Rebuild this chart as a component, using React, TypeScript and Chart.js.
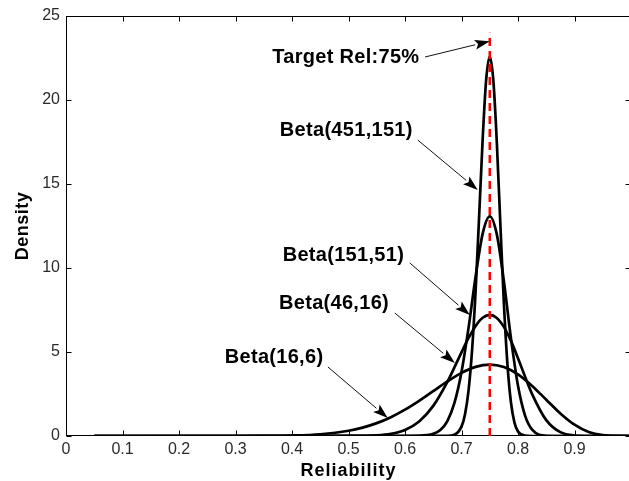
import { useEffect, useRef } from "react";
import { Chart, registerables } from "chart.js";

Chart.register(...registerables);

// Axis ticks
const reliabilityTicks = [0, 0.1, 0.2, 0.3, 0.4, 0.5, 0.6, 0.7, 0.8, 0.9, 1];
const densityTicks = [0, 5, 10, 15, 20, 25];

// Target reliability marker
const targetReliability = 0.75;
const targetLineTop = 24;

// Beta(16,6) density
const beta16x6X = [0.05, 0.3, 0.35, 0.4, 0.45, 0.5, 0.525, 0.55, 0.575, 0.6, 0.625, 0.65, 0.675, 0.7, 0.725, 0.75, 0.775, 0.8, 0.825, 0.85, 0.875, 0.9, 0.925, 0.95, 0.975, 1.0];
const beta16x6Y = [0, 0.001, 0.006, 0.027, 0.103, 0.311, 0.5, 0.766, 1.121, 1.568, 2.094, 2.671, 3.248, 3.756, 4.115, 4.249, 4.103, 3.666, 2.983, 2.16, 1.341, 0.67, 0.24, 0.047, 0.002, 0];

// Beta(46,16) density
const beta46x16X = [0.05, 0.45, 0.5, 0.55, 0.575, 0.6, 0.625, 0.65, 0.675, 0.6875, 0.7, 0.7125, 0.725, 0.7375, 0.75, 0.7625, 0.775, 0.7875, 0.8, 0.8125, 0.825, 0.85, 0.875, 0.9, 0.925, 0.95, 1.0];
const beta46x16Y = [0, 0, 0.003, 0.042, 0.132, 0.362, 0.863, 1.792, 3.222, 4.085, 4.982, 5.835, 6.551, 7.036, 7.211, 7.029, 6.493, 5.66, 4.631, 3.534, 2.496, 0.947, 0.227, 0.028, 0.001, 0, 0];

// Beta(151,51) density
const beta151x51X = [0.05, 0.6, 0.625, 0.65, 0.6625, 0.675, 0.6875, 0.7, 0.7125, 0.725, 0.7375, 0.75, 0.7625, 0.775, 0.7875, 0.8, 0.8125, 0.825, 0.85, 0.875, 1.0];
const beta151x51Y = [0, 0.001, 0.011, 0.126, 0.356, 0.891, 1.966, 3.81, 6.452, 9.494, 12.048, 13.07, 12.003, 9.215, 5.829, 2.986, 1.213, 0.38, 0.015, 0, 0];

// Beta(451,151) density
const beta451x151X = [0.05, 0.675, 0.6875, 0.7, 0.70625, 0.7125, 0.71875, 0.725, 0.73125, 0.7375, 0.74375, 0.75, 0.75625, 0.7625, 0.76875, 0.775, 0.78125, 0.7875, 0.79375, 0.8, 0.8125, 0.825, 1.0];
const beta451x151Y = [0, 0.007, 0.077, 0.559, 1.298, 2.718, 5.121, 8.658, 13.1, 17.693, 21.24, 22.59, 21.21, 17.494, 12.617, 7.917, 4.297, 2.004, 0.798, 0.269, 0.018, 0, 0];

// Callout labels, in data coordinates: text anchor, arrow tail, arrow tip
const calloutTexts = ["Target Rel:75%", "Beta(451,151)", "Beta(151,51)", "Beta(46,16)", "Beta(16,6)"];
const calloutTextAt = [[0.365, 22.56], [0.3785, 18.21], [0.3835, 10.77], [0.377, 7.86], [0.281, 4.7]];
const calloutTails = [[0.6355, 22.56], [0.6225, 17.62], [0.6085, 10.3], [0.582, 7.32], [0.4635, 4.11]];
const calloutTips = [[0.75, 23.5], [0.7288, 14.64], [0.7147, 7.2], [0.6882, 4.35], [0.5696, 1.07]];

const toPoints = (xs: number[], ys: number[]) => xs.map((x, i) => ({ x, y: ys[i] }));

const framePlugin = {
  id: "frameTicks",
  beforeDatasetsDraw(chart: any) {
    const { ctx, chartArea: a, scales } = chart;
    const xs = scales.x;
    const ys = scales.y;
    const L = Math.round(a.left) + 0.5;
    const R = Math.round(a.right) - 0.5;
    const T = Math.round(a.top) + 0.5;
    const B = Math.round(a.bottom) - 0.5;
    const tl = 5;
    ctx.save();
    ctx.strokeStyle = "#000";
    ctx.lineWidth = 1;
    ctx.strokeRect(L, T, R - L, B - T);
    ctx.beginPath();
    reliabilityTicks.forEach((v) => {
      const px = Math.round(xs.getPixelForValue(v)) + 0.5;
      ctx.moveTo(px, B);
      ctx.lineTo(px, B - tl);
      ctx.moveTo(px, T);
      ctx.lineTo(px, T + tl);
    });
    densityTicks.forEach((v) => {
      const py = Math.round(ys.getPixelForValue(v)) + 0.5;
      ctx.moveTo(L, py);
      ctx.lineTo(L + tl, py);
      ctx.moveTo(R, py);
      ctx.lineTo(R - tl, py);
    });
    ctx.stroke();
    ctx.restore();
  },
  afterDraw(chart: any) {
    const { ctx, chartArea: a } = chart;
    ctx.save();
    ctx.fillStyle = "#000";
    ctx.font = "bold 18px 'Liberation Sans', Arial, sans-serif";
    (ctx as any).letterSpacing = "1px";
    ctx.textAlign = "center";
    ctx.textBaseline = "alphabetic";
    ctx.fillText("Reliability", (a.left + a.right) / 2, 475.5);
    ctx.translate(28, (a.top + a.bottom) / 2);
    ctx.rotate(-Math.PI / 2);
    (ctx as any).letterSpacing = "0.5px";
    ctx.fillText("Density", 0, 0);
    ctx.restore();
  },
};

const calloutPlugin = {
  id: "callouts",
  afterDatasetsDraw(chart: any) {
    const { ctx, scales } = chart;
    const xs = scales.x;
    const ys = scales.y;
    ctx.save();
    calloutTexts.forEach((text, i) => {
      const tx = xs.getPixelForValue(calloutTextAt[i][0]);
      const ty = ys.getPixelForValue(calloutTextAt[i][1]);
      ctx.fillStyle = "#000";
      ctx.font = "bold 20px 'Liberation Sans', Arial, sans-serif";
      (ctx as any).letterSpacing = "0.3px";
      ctx.textAlign = "left";
      ctx.textBaseline = "middle";
      ctx.fillText(text, tx, ty);

      const x0 = xs.getPixelForValue(calloutTails[i][0]);
      const y0 = ys.getPixelForValue(calloutTails[i][1]);
      const x1 = xs.getPixelForValue(calloutTips[i][0]);
      const y1 = ys.getPixelForValue(calloutTips[i][1]);
      const ang = Math.atan2(y1 - y0, x1 - x0);
      const hl = 15;
      const hw = 5;
      const bx = x1 - hl * Math.cos(ang);
      const by = y1 - hl * Math.sin(ang);
      ctx.strokeStyle = "#111";
      ctx.lineWidth = 1;
      ctx.beginPath();
      ctx.moveTo(x0, y0);
      ctx.lineTo(bx, by);
      ctx.stroke();
      ctx.beginPath();
      ctx.moveTo(x1, y1);
      ctx.lineTo(bx - hw * Math.sin(ang), by + hw * Math.cos(ang));
      ctx.lineTo(bx + 3 * Math.cos(ang), by + 3 * Math.sin(ang));
      ctx.lineTo(bx + hw * Math.sin(ang), by - hw * Math.cos(ang));
      ctx.closePath();
      ctx.fillStyle = "#000";
      ctx.fill();
    });
    ctx.restore();
  },
};

export default function App() {
  const canvasRef = useRef<HTMLCanvasElement | null>(null);

  useEffect(() => {
    if (!canvasRef.current) return;
    const curve = (xs: number[], ys: number[]) => ({
      data: toPoints(xs, ys),
      borderColor: "#000",
      borderWidth: 2.7,
      pointRadius: 0,
      cubicInterpolationMode: "monotone" as const,
      fill: false,
    });
    const chart = new Chart(canvasRef.current, {
      type: "line",
      data: {
        datasets: [
          {
            data: [
              { x: targetReliability, y: 0 },
              { x: targetReliability, y: targetLineTop },
            ],
            borderColor: "#ff0000",
            borderWidth: 2.5,
            borderDash: [8, 5],
            pointRadius: 0,
            fill: false,
          },
          curve(beta451x151X, beta451x151Y),
          curve(beta151x51X, beta151x51Y),
          curve(beta46x16X, beta46x16Y),
          curve(beta16x6X, beta16x6Y),
        ],
      },
      options: {
        responsive: false,
        animation: false,
        events: [],
        layout: { padding: { top: 16, right: 9, left: 0, bottom: 0 } },
        plugins: { legend: { display: false }, tooltip: { enabled: false } },
        scales: {
          x: {
            type: "linear",
            min: 0,
            max: 1,
            grid: { display: false, drawTicks: false },
            border: { display: false },
            afterBuildTicks: (s: any) => {
              s.ticks = reliabilityTicks.map((v) => ({ value: v }));
            },
            afterFit: (s: any) => {
              s.height = 45;
            },
            ticks: {
              padding: 4,
              maxRotation: 0,
              autoSkip: false,
              color: "#2a2a2a",
              font: { family: "'Liberation Sans', Arial, sans-serif", size: 16 },
              callback: (v: any) => (Number(v) >= 1 ? "" : String(Math.round(Number(v) * 10) / 10)),
            },
          },
          y: {
            type: "linear",
            min: 0,
            max: 25,
            grid: { display: false, drawTicks: false },
            border: { display: false },
            afterBuildTicks: (s: any) => {
              s.ticks = densityTicks.map((v) => ({ value: v }));
            },
            afterFit: (s: any) => {
              s.width = 66;
            },
            ticks: {
              padding: 6,
              autoSkip: false,
              color: "#2a2a2a",
              font: { family: "'Liberation Sans', Arial, sans-serif", size: 16 },
              callback: (v: any) => String(v),
            },
          },
        },
      },
      plugins: [framePlugin, calloutPlugin],
    } as any);
    return () => chart.destroy();
  }, []);

  return (
    <div
      style={{
        position: "fixed",
        left: 0,
        top: 0,
        width: 629,
        height: 481,
        overflow: "hidden",
        background: "#fff",
      }}
    >
      <canvas ref={canvasRef} width={640} height={481} style={{ display: "block" }} />
    </div>
  );
}
